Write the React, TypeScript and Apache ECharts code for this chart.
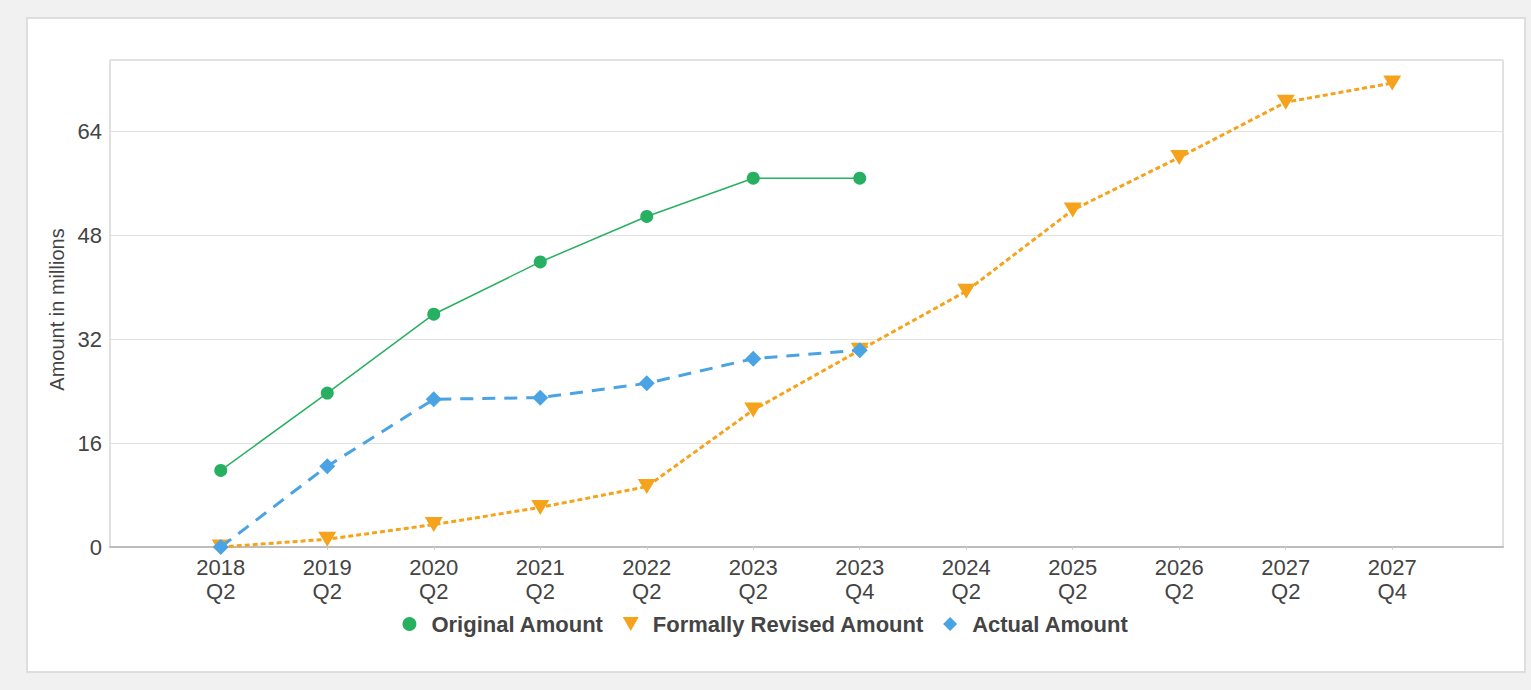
import React, { useEffect, useRef } from "react";
import * as echarts from "echarts";

const categories = [
  "2018\nQ2", "2019\nQ2", "2020\nQ2", "2021\nQ2", "2022\nQ2", "2023\nQ2",
  "2023\nQ4", "2024\nQ2", "2025\nQ2", "2026\nQ2", "2027\nQ2", "2027\nQ4",
];
const originalAmount = [11.8, 23.7, 35.85, 43.9, 50.9, 56.8, 56.8];
const revisedAmount = [0, 1.2, 3.45, 6.1, 9.3, 21.1, 30.3, 39.4, 51.9, 60.0, 68.5, 71.45];
const actualAmount = [0, 12.45, 22.75, 23.0, 25.2, 29.0, 30.3];
const yTicks = [0, 16, 32, 48, 64];

const FONT = "'Liberation Sans', Arial, Helvetica, sans-serif";
const TRI = "path://M0,0 L16,0 L8,14 Z";
const DIA = "path://M8,0 L16,8 L8,16 L0,8 Z";

const toPairs = (arr: number[]) => arr.map((v, i) => [i, v]);

export default function App() {
  const ref = useRef<HTMLDivElement>(null);
  useEffect(() => {
    if (!ref.current) return;
    const chart = echarts.init(ref.current, undefined, { renderer: "svg" });
    chart.setOption({
      animation: false,
      textStyle: { fontFamily: FONT },
      grid: {
        left: 110,
        top: 60,
        right: 28,
        bottom: 143,
        show: true,
        borderColor: "#c2c2c2",
        borderWidth: 1,
        containLabel: false,
      },
      legend: {
        bottom: 50,
        left: "center",
        itemWidth: 34,
        itemHeight: 14,
        itemGap: 19,
        textStyle: { fontSize: 22, fontWeight: "bold", color: "#444", fontFamily: FONT },
        data: [
          { name: "Original Amount", icon: "circle" },
          { name: "Formally Revised Amount", icon: TRI },
          { name: "Actual Amount", icon: DIA },
        ],
      },
      xAxis: {
        type: "value",
        min: -1.04,
        max: 12.04,
        splitLine: { show: false },
        axisLine: { show: true, lineStyle: { color: "#bdbdbd", width: 2 } },
        axisTick: {
          show: true,
          customValues: categories.map((_, i) => i),
          length: 3,
          lineStyle: { color: "#d0d0d0" },
        },
        axisLabel: {
          customValues: categories.map((_, i) => i),
          formatter: (v: number) => categories[Math.round(v)] ?? "",
          fontSize: 22,
          lineHeight: 24,
          color: "#444",
          margin: 8,
          fontFamily: FONT,
        },
      },
      yAxis: {
        type: "value",
        min: 0,
        max: 75,
        interval: 16,
        name: "Amount in millions",
        nameLocation: "middle",
        nameGap: 37,
        nameTextStyle: { fontSize: 20, color: "#444", fontFamily: FONT, padding: [0, 12, 0, 0] },
        axisLine: { show: false },
        axisTick: { show: false },
        axisLabel: {
          customValues: yTicks,
          fontSize: 22,
          color: "#444",
          margin: 8,
          fontFamily: FONT,
        },
        splitLine: { show: true, lineStyle: { color: "#e2e2e2", width: 1 } },
      },
      series: [
        {
          name: "Original Amount",
          type: "line",
          data: toPairs(originalAmount),
          symbol: "circle",
          symbolSize: 13,
          itemStyle: { color: "#27b061" },
          lineStyle: { color: "#27b061", width: 1.5 },
          z: 3,
        },
        {
          name: "Formally Revised Amount",
          type: "line",
          data: toPairs(revisedAmount),
          symbol: TRI,
          symbolSize: [18, 15],
          itemStyle: { color: "#f5a31c" },
          lineStyle: { color: "#f5a31c", width: 3, type: [5, 3] },
          z: 2,
        },
        {
          name: "Actual Amount",
          type: "line",
          data: toPairs(actualAmount),
          symbol: DIA,
          symbolSize: [16, 16],
          itemStyle: { color: "#4aa3e2" },
          lineStyle: { color: "#4aa3e2", width: 3, type: [13, 9] },
          z: 4,
        },
      ],
    });
    return () => chart.dispose();
  }, []);

  return (
    <div style={{ position: "fixed", left: 0, top: 0, width: 1531, height: 690, background: "#f1f1f1" }}>
      <div
        style={{
          position: "absolute",
          left: 26,
          top: 17,
          width: 1496,
          height: 652,
          background: "#fff",
          border: "2px solid #dedede",
        }}
      />
      <div ref={ref} style={{ position: "absolute", left: 0, top: 0, width: 1531, height: 690 }} />
    </div>
  );
}
